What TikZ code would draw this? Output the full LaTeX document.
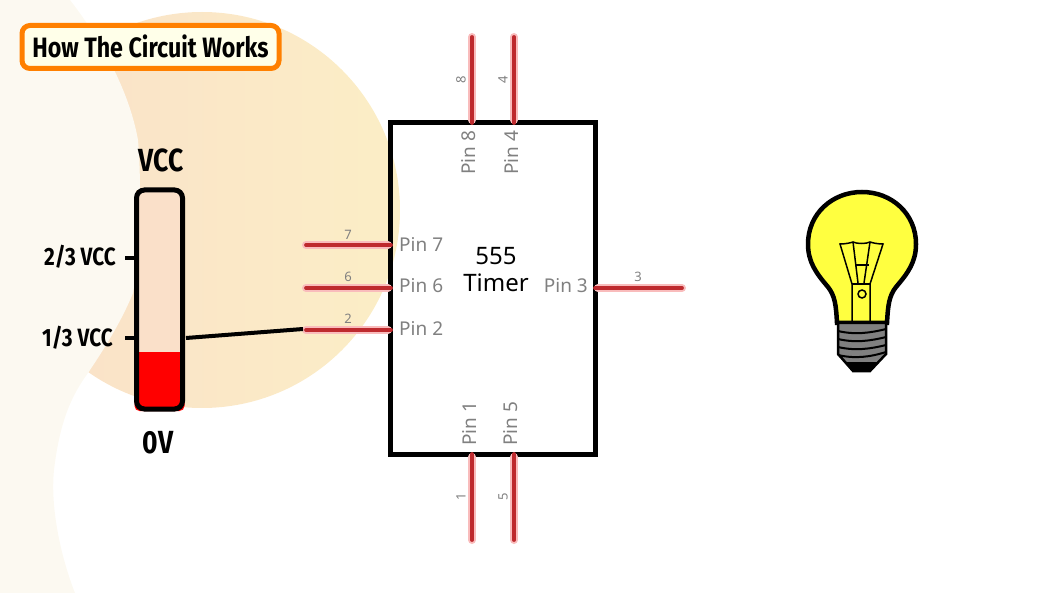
\documentclass[tikz,border=0pt]{standalone}
\usepackage{fontspec}
\setmainfont{Noto Sans}
\newfontfamily\dinfont[FakeStretch=0.83]{Fira Sans}
\definecolor{creamback}{HTML}{FCF9F1}
\definecolor{peachleft}{HTML}{FAE0C9}
\definecolor{peachright}{HTML}{FBEEC6}
\definecolor{titleorange}{HTML}{FF8000}
\definecolor{titlefill}{HTML}{FFFFE9}
\definecolor{halopink}{HTML}{F9BCBC}
\definecolor{pincore}{HTML}{BE2A2E}
\definecolor{bulbyellow}{HTML}{FFFF40}
\definecolor{basegrey}{HTML}{808080}
\tikzset{
    pinglow/.style={draw=halopink, line width=8pt, line cap=round},
    pinwire/.style={draw=pincore, line width=3.8pt, line cap=round},
    pinname/.style={text=gray, font=\fontsize{19}{19}\selectfont, inner sep=0pt},
    pinnum/.style={text=gray, font=\fontsize{13}{13}\selectfont, inner sep=0pt},
    levelname/.style={text=black, font=\dinfont\bfseries\fontsize{25}{25}\selectfont, inner sep=0pt},
    railname/.style={text=black, font=\dinfont\bfseries\fontsize{32}{32}\selectfont, inner sep=0pt},
}
\begin{document}
\begin{tikzpicture}[x=1pt, y=-1pt]

        \useasboundingbox (0,0) rectangle (1054,593);

        % Sfondo: cerchio sfumato e macchia crema
        \shade[left color=peachleft, right color=peachright] (202,210) circle (198);
        \fill[creamback] (0,0) -- (70,0) .. controls (105,45) and (130,95) .. (138,140)
            .. controls (142,190) and (140,255) .. (133,293)
            .. controls (120,325) and (100,355) .. (88,373)
            .. controls (72,395) and (60,420) .. (54,470)
            .. controls (50,510) and (62,560) .. (75,593) -- (0,593) -- cycle;

        % Titolo
        \node[draw=titleorange, fill=titlefill, line width=5pt, rounded corners=8pt,
            minimum width=257pt, minimum height=43pt, inner sep=0pt,
            font=\dinfont\bfseries\fontsize{28}{28}\selectfont] (title) at (150.5,47) {\raisebox{1.5pt}{How The Circuit Works}};

        % Tubo del livello di tensione
        \fill[peachleft] (136,190) rectangle (183,352);
        \fill[red, rounded corners=5pt] (134.5,352) -- (134.5,411) -- (184.5,411) -- (184.5,352) -- cycle;
        \fill[red] (134.5,352) rectangle (184.5,380);
        \node[draw=black, line width=5pt, rounded corners=8pt, minimum width=46pt, minimum height=219pt,
            inner sep=0pt] (tube) at (159.5,299.5) {};
        \coordinate (tubeout) at (186,338);

        % Tacche e nomi dei livelli
        \coordinate (tick2) at (125,258);
        \coordinate (tick1) at (125,338);
        \draw[line width=4pt] (tick2) -- (tick2 -| tube.west);
        \draw[line width=4pt] (tick1) -- (tick1 -| tube.west);
        \node[railname] (vcc) at (161,160) {VCC};
        \node[levelname] (twothirds) at (80,257) {2/3 VCC};
        \node[levelname] (onethird) at (77.5,338) {1/3 VCC};
        \node[railname] (zerov) at (158,443) {0V};

        % Corpo del timer
        \node[draw=black, line width=5pt, minimum width=205pt, minimum height=332pt,
            inner sep=0pt] (timer) at (493,288.5) {};
        \node[inner sep=0pt, align=center, font=\fontsize{24}{27}\selectfont] (timername) at (496,269.5) {555\\Timer};

        % Estremi liberi dei piedini
        \coordinate (p8) at (472,37);
        \coordinate (p4) at (514,37);
        \coordinate (p7) at (306,245);
        \coordinate (p6) at (306,288);
        \coordinate (p2) at (306,330);
        \coordinate (p3) at (682,288);
        \coordinate (p1) at (472,540);
        \coordinate (p5) at (514,540);

        % Alone dei piedini
        \draw[pinglow] (p8) -- (p8 |- timer.north);
        \draw[pinglow] (p4) -- (p4 |- timer.north);
        \draw[pinglow] (p7) -- (p7 -| timer.west);
        \draw[pinglow] (p6) -- (p6 -| timer.west);
        \draw[pinglow] (p2) -- (p2 -| timer.west);
        \draw[pinglow] (p3) -- (p3 -| timer.east);
        \draw[pinglow] (p1) -- (p1 |- timer.south);
        \draw[pinglow] (p5) -- (p5 |- timer.south);

        % Piedini
        \draw[pinwire] (p8) -- ([yshift=-3pt]p8 |- timer.north);
        \draw[pinwire] (p4) -- ([yshift=-3pt]p4 |- timer.north);
        \draw[pinwire] (p7) -- ([xshift=3pt]p7 -| timer.west);
        \draw[pinwire] (p6) -- ([xshift=3pt]p6 -| timer.west);
        \draw[pinwire] (p2) -- ([xshift=3pt]p2 -| timer.west);
        \draw[pinwire] (p3) -- ([xshift=-3pt]p3 -| timer.east);
        \draw[pinwire] (p1) -- ([yshift=3pt]p1 |- timer.south);
        \draw[pinwire] (p5) -- ([yshift=3pt]p5 |- timer.south);

        % Collegamento tra tubo e Pin 2
        \coordinate (p2end) at (303,329);
        \draw[line width=4pt] (tubeout) -- (p2end);

        % Nomi dei piedini
        \node[pinname, anchor=west] (name7) at (399,244) {Pin 7};
        \node[pinname, anchor=west] (name6) at (399,286) {Pin 6};
        \node[pinname, anchor=west] (name2) at (399,328) {Pin 2};
        \node[pinname, anchor=east] (name3) at (588,286) {Pin 3};
        \node[pinname, rotate=90] (name8) at (469,153) {Pin 8};
        \node[pinname, rotate=90] (name4) at (511,153) {Pin 4};
        \node[pinname, rotate=90] (name1) at (469,424) {Pin 1};
        \node[pinname, rotate=90] (name5) at (511,424) {Pin 5};

        % Numeri dei piedini
        \node[pinnum] (num7) at (348,235) {7};
        \node[pinnum] (num6) at (348,277) {6};
        \node[pinnum] (num2) at (348,319) {2};
        \node[pinnum] (num3) at (638,277) {3};
        \node[pinnum, rotate=90] (num8) at (461,80) {8};
        \node[pinnum, rotate=90] (num4) at (503,80) {4};
        \node[pinnum, rotate=90] (num1) at (461,497) {1};
        \node[pinnum, rotate=90] (num5) at (503,497) {5};

        % Lampadina
        \draw[fill=bulbyellow, line width=4.5pt] (837,323)
            .. controls (836,305) and (835,296) .. (828,287)
            .. controls (816,273) and (808,262) .. (808,244)
            .. controls (808,214) and (832,192) .. (862,192)
            .. controls (892,192) and (916,214) .. (916,244)
            .. controls (916,262) and (908,273) .. (896,287)
            .. controls (889,296) and (888,305) .. (887,323) -- cycle;
        \draw[fill=basegrey, line width=2.5pt] (838,323) -- (886,323) -- (886,354) -- (870,371)
            -- (853,371) -- (838,354) -- cycle;
        \fill (853,371) -- (870,371) -- (878,362) -- (845,362) -- cycle;
        \draw[line width=2pt] (838,331) .. controls (855,335) and (870,333) .. (886,329);
        \draw[line width=2pt] (838,339) .. controls (855,343) and (870,341) .. (886,337);
        \draw[line width=2pt] (838,347) .. controls (855,351) and (870,349) .. (886,345);
        \draw[line width=2pt] (838,355) .. controls (855,359) and (870,357) .. (886,352);

        % Filamento
        \draw[line width=1.5pt] (852,322) -- (852,284) -- (840,244) .. controls (845,244) and (850,243) .. (853,242)
            .. controls (857,244) and (866,244) .. (870,242) .. controls (873,243) and (878,244) .. (883,244)
            -- (870,284) -- (870,322);
        \draw[line width=1.5pt] (853,242) -- (858,283);
        \draw[line width=1.5pt] (870,242) -- (864,283);
        \draw[line width=1.5pt] (855,265) -- (869,265);
        \draw[line width=1.5pt] (852,284) -- (870,284);
        \draw[line width=1.5pt] (862,294) circle (4);

\end{tikzpicture}
\end{document}
